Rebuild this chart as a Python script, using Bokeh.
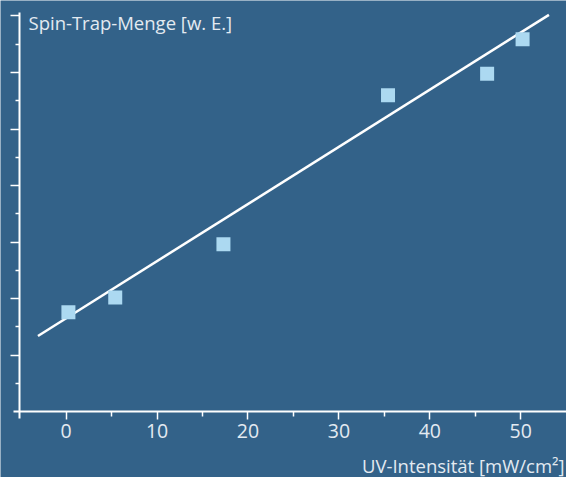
from bokeh.plotting import figure
from bokeh.models import LinearAxis, FixedTicker, Range1d, Label
from bokeh.embed import file_html
from bokeh.resources import INLINE

# ---- data ----
uv_intensity = [0.25, 5.4, 17.3, 35.4, 46.3, 50.2]
spin_trap = [1.76, 2.02, 2.96, 5.60, 5.98, 6.59]
fit_x = [-3.1, 53.1]
fit_y = [1.34, 7.02]
x_ticks = [0, 10, 20, 30, 40, 50]
x_minor = [5, 15, 25, 35, 45]
y_ticks = [1, 2, 3, 4, 5, 6, 7]
y_minor = [0.5, 1.5, 2.5, 3.5, 4.5, 5.5, 6.5]
y_title = "Spin-Trap-Menge [w. E.]"
x_title = "UV-Intensität [mW/cm²]"

BG = "#336289"
TXT = "#e3eaf1"
SQ = "#acd9f1"
FONT = "Open Sans"

p = figure(width=566, height=477, output_backend="svg", toolbar_location=None,
           x_range=Range1d(-7.219, 55.03), y_range=Range1d(-1.164, 7.274),
           x_axis_type=None, y_axis_type=None,
           min_border=0, min_border_left=0, min_border_right=0,
           min_border_top=0, min_border_bottom=0)
p.background_fill_color = BG
p.border_fill_color = BG
p.outline_line_color = None

xaxis = LinearAxis(fixed_location=0, bounds=(-5.80, 55.03),
                   ticker=FixedTicker(ticks=x_ticks, minor_ticks=x_minor))
xaxis.axis_line_color = "white"
xaxis.axis_line_width = 2
xaxis.major_tick_line_color = "white"
xaxis.major_tick_line_width = 1.5
xaxis.minor_tick_line_color = "white"
xaxis.minor_tick_line_width = 1.5
xaxis.major_tick_in = 0
xaxis.major_tick_out = 8
xaxis.minor_tick_in = 0
xaxis.minor_tick_out = 5
xaxis.major_label_text_font = FONT
xaxis.major_label_text_font_size = "19.5px"
xaxis.major_label_text_color = TXT
xaxis.major_label_standoff = 4
p.add_layout(xaxis, "below")

yaxis = LinearAxis(fixed_location=-5.155, bounds=(-0.115, 7.07),
                   ticker=FixedTicker(ticks=y_ticks, minor_ticks=y_minor))
yaxis.axis_line_color = "white"
yaxis.axis_line_width = 2
yaxis.major_tick_line_color = "white"
yaxis.major_tick_line_width = 1.5
yaxis.minor_tick_line_color = "white"
yaxis.minor_tick_line_width = 1.5
yaxis.major_tick_in = 0
yaxis.major_tick_out = 9
yaxis.minor_tick_in = 0
yaxis.minor_tick_out = 4
yaxis.major_label_text_color = None
yaxis.major_label_text_font_size = "1px"
p.add_layout(yaxis, "left")

p.line(fit_x, fit_y, line_color="white", line_width=2.5)
p.scatter(uv_intensity, spin_trap, marker="square", size=14,
          fill_color=SQ, line_color=None)

p.add_layout(Label(x=28, y=455, x_units="screen", y_units="screen",
                   text=y_title, text_font=FONT, text_font_size="18.5px",
                   text_color=TXT, text_baseline="alphabetic"))
p.add_layout(Label(x=564, y=12, x_units="screen", y_units="screen",
                   text=x_title, text_font=FONT, text_font_size="18.5px",
                   text_color=TXT, text_align="right", text_baseline="alphabetic"))

open("out.html", "w").write(file_html(p, INLINE))
